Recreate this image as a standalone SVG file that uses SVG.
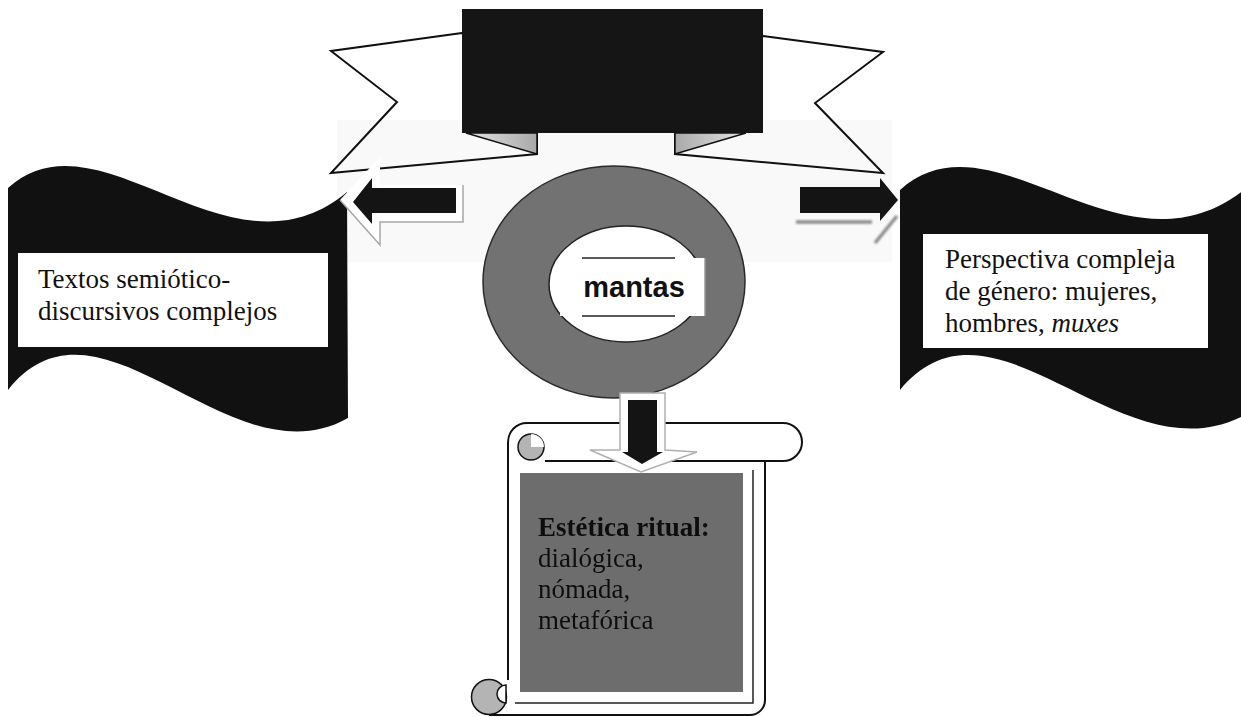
<svg xmlns="http://www.w3.org/2000/svg" width="1241" height="717" viewBox="0 0 1241 717">
  <defs>
    <style>
      .outline { fill: none; stroke: #111; stroke-width: 2; stroke-linejoin: miter; }
      .serif { font-family: "Liberation Serif", "Times New Roman", serif; font-size: 27px; fill: #111; }
      .flag { fill: #111; }
      .box { fill: #fff; }
      .soft { filter: url(#soft); }
    </style>
    <linearGradient id="foldL" x1="0" y1="0" x2="1" y2="0">
      <stop offset="0" stop-color="#e4e4e4"/>
      <stop offset="1" stop-color="#a9a9a9"/>
    </linearGradient>
    <linearGradient id="foldR" x1="1" y1="0" x2="0" y2="0">
      <stop offset="0" stop-color="#e4e4e4"/>
      <stop offset="1" stop-color="#a9a9a9"/>
    </linearGradient>
    <filter id="soft" x="-10%" y="-10%" width="120%" height="120%">
      <feGaussianBlur stdDeviation="0.7"/>
    </filter>
    <filter id="haze" x="-20%" y="-50%" width="140%" height="200%">
      <feGaussianBlur stdDeviation="1"/>
    </filter>
  </defs>

  <rect width="1241" height="717" fill="#fff"/>
  <!-- pale backdrop behind the banner and side arrows -->
  <rect x="337" y="120" width="555" height="142" fill="#f9f9f9"/>

  <!-- title banner -->
  <g id="banner">
    <polygon class="outline" points="462,33 331,51 397,102 331,173 537,154 537,133"/>
    <polygon class="outline" points="763,36 883,52 815,103 883,173 675,154 675,133"/>
    <polygon points="466,133 537,133 537,154" fill="url(#foldL)" stroke="#111" stroke-width="1.5"/>
    <polygon points="746,133 675,133 675,154" fill="url(#foldR)" stroke="#111" stroke-width="1.5"/>
    <rect x="462" y="9" width="301" height="124" fill="#151515"/>
  </g>

  <!-- left wave flag -->
  <g id="flag-left">
    <path class="flag" d="M8,188 C100,105 230,290 347,192 L348,418 C230,485 100,275 8,390 Z"/>
    <rect class="box" x="18" y="253" width="310" height="94"/>
    <text class="serif" x="38" y="288">Textos semiótico-</text>
    <text class="serif" x="38" y="320">discursivos complejos</text>
  </g>

  <!-- right wave flag -->
  <g id="flag-right">
    <path class="flag" d="M900,190 C995,105 1125,292 1250,185 L1250,412 C1125,487 995,275 900,390 Z"/>
    <rect class="box" x="923" y="234" width="285" height="114"/>
    <text class="serif" x="945" y="268">Perspectiva compleja</text>
    <text class="serif" x="945" y="300">de género: mujeres,</text>
    <text class="serif" x="945" y="332">hombres, <tspan font-style="italic">muxes</tspan></text>
  </g>

  <!-- central ring -->
  <g id="mantas">
    <ellipse cx="614" cy="282" rx="131" ry="116" fill="#727272" stroke="#2a2a2a" stroke-width="1.5"/>
    <ellipse cx="626" cy="284" rx="77" ry="58" fill="#fff" stroke="#222" stroke-width="1.5"/>
    <rect x="560" y="258" width="145" height="58" fill="#fff"/>
    <line x1="705" y1="258" x2="705" y2="316" stroke="#999" stroke-width="1.5"/>
    <line x1="582" y1="258" x2="675" y2="258" stroke="#222" stroke-width="1.5"/>
    <line x1="582" y1="316" x2="675" y2="316" stroke="#222" stroke-width="1.5"/>
    <text x="634" y="297" text-anchor="middle" font-family="'Liberation Sans', Arial, sans-serif" font-weight="bold" font-size="29" fill="#111">mantas</text>
  </g>

  <!-- scroll -->
  <g id="scroll">
    <path d="M508,442 A19,19 0 0 1 527,423 L783,423 A19,19 0 0 1 783,461 L765,461 L765,700 A15,15 0 0 1 750,715 L490,715 L490,679 L508,679 Z" fill="#fff"/>
    <path class="outline" d="M508,680 L508,442 A19,19 0 0 1 527,423 L783,423 A19,19 0 0 1 783,461 L545,461"/>
    <path class="outline" d="M765,461 L765,700 A15,15 0 0 1 750,715 L489,715"/>
    <circle cx="531" cy="447" r="13" fill="#b4b4b4" stroke="#111" stroke-width="1.5"/>
    <path d="M531,447 L531,434 A13,13 0 0 1 544,447 Z" fill="#fff"/>
    <circle cx="489" cy="697" r="17.5" fill="#b4b4b4" stroke="#111" stroke-width="1.5"/>
    <path d="M506,685 A9,9 0 0 0 506,703 Z" fill="#fff" stroke="#111" stroke-width="1.5"/>
    <path d="M753,470 L753,703 L515,703" fill="none" stroke="#222" stroke-width="1.5"/>
    <rect x="520" y="473" width="223" height="219" fill="#6d6d6d"/>
    <g class="soft">
      <text class="serif" x="538" y="536" font-weight="bold">Estética ritual:</text>
      <text class="serif" x="538" y="567">dialógica,</text>
      <text class="serif" x="538" y="598">nómada,</text>
      <text class="serif" x="538" y="629">metafórica</text>
    </g>
  </g>

  <!-- connectors -->
  <g id="connectors">
    <!-- to the left flag -->
    <polygon points="340,200 380,157 380,185 463,185 463,222 380,222 380,245" fill="#fff"/>
    <polyline points="340,200 380,245 380,222 463,222 463,185" fill="none" stroke="#a8a8a8" stroke-width="1.5"/>
    <polygon points="353,202 372,178 372,188 456,188 456,213 372,213 372,224" fill="#141414"/>

    <!-- to the right flag -->
    <g filter="url(#haze)" stroke="#8a8a8a" stroke-width="3.5" fill="none">
      <line x1="796" y1="222" x2="872" y2="222"/>
      <line x1="875" y1="243" x2="897" y2="216"/>
    </g>
    <polygon points="800,187 880,187 880,178 898,200 880,221 880,213 800,213" fill="#141414"/>

    <!-- down to the scroll -->
    <polygon points="620,393 665,393 665,450 697,452 641,472 590,450 620,450" fill="#fff" stroke="#b0b0b0" stroke-width="1.5"/>
    <polygon points="628,400 657,400 657,452 663,452 642,464 622,452 628,452" fill="#141414"/>
  </g>
</svg>
